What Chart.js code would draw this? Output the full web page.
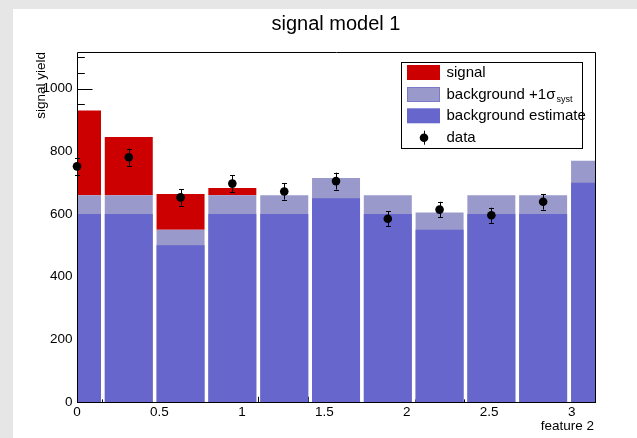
<!DOCTYPE html>
<html>
<head>
<meta charset="utf-8">
<script src="https://cdn.jsdelivr.net/npm/chart.js@4/dist/chart.umd.min.js"></script>
<style>
  html, body { margin: 0; padding: 0; background: #fff; }
  #wrap { width: 637px; height: 438px; }
</style>
</head>
<body>
<div id="wrap"><canvas id="c" width="637" height="438"></canvas></div>
<script>
// ---- data ----
const binCenters   = [0, 0.314, 0.628, 0.942, 1.257, 1.571, 1.885, 2.199, 2.513, 2.827, 3.142];
const bkgEstimate  = [600, 600, 500, 600, 600, 650, 600, 550, 600, 600, 700];
const bkgUpSyst    = [660, 660, 550, 660, 660, 715, 660, 605, 660, 660, 770];
const signalYield  = [270, 186, 114, 23, 0, 0, 0, 0, 0, 0, 0];
const dataX        = [0, 0.314, 0.628, 0.942, 1.257, 1.571, 1.885, 2.199, 2.513, 2.827];
const dataY        = [752, 781, 653, 697, 672, 705, 585, 614, 596, 639];
const dataErr      = [27, 28, 26, 27, 26, 27, 24, 25, 24, 25];
const xTickLabels  = ['0', '0.5', '1', '1.5', '2', '2.5', '3'];
const yTickLabels  = ['0', '200', '400', '600', '800', '1000'];

const legendItems  = ['signal', 'background +1', 'background estimate', 'data'];
const titleText    = 'signal model 1';
const xTitle       = 'feature 2';
const yTitle       = 'signal yield';

const RED = '#cc0000', LIGHT = '#9999cc', DARK = '#6666cc';
const FONT = '"Liberation Sans", Arial, Helvetica, sans-serif';

Chart.defaults.font.family = FONT;
Chart.defaults.color = '#000';

const rootStyle = {
  id: 'rootStyle',
  beforeDraw(chart) {
    const { ctx, width, height } = chart;
    ctx.save();
    ctx.fillStyle = '#ffffff';
    ctx.fillRect(0, 0, width, height);
    ctx.fillStyle = '#e6e6e6';
    ctx.fillRect(0, 0, width, 9);
    ctx.fillRect(0, 0, 13, height);
    ctx.restore();
  },
  beforeDatasetsDraw(chart) {
    const { ctx, chartArea: a, scales: { x, y } } = chart;
    ctx.save();
    ctx.strokeStyle = '#000';
    ctx.lineWidth = 1;
    ctx.beginPath();
    ctx.moveTo(a.left, a.bottom + 0.5);
    ctx.lineTo(a.right, a.bottom + 0.5);
    // y ticks (inside frame), major every 200, minor every 50
    for (let k = 0; k * 50 <= y.max; k++) {
      const py = Math.round(y.getPixelForValue(k * 50)) + 0.5;
      const len = (k % 4 === 0) ? 15.5 : 7.8;
      ctx.moveTo(a.left, py);
      ctx.lineTo(a.left + len, py);
    }
    // x ticks (inside frame), major 0.5, minor 0.1, tertiary 0.05
    for (let k = 0; k * 0.05 <= x.max + 1e-9; k++) {
      const px = Math.round(x.getPixelForValue(k * 0.05)) + 0.5;
      const len = (k % 10 === 0) ? 10.5 : (k % 2 === 0 ? 5.2 : 2.6);
      ctx.moveTo(px, a.bottom);
      ctx.lineTo(px, a.bottom - len);
    }
    ctx.stroke();
    ctx.restore();
  },
  afterDatasetsDraw(chart) {
    const { ctx, chartArea: a, scales: { x, y } } = chart;
    ctx.save();
    // error bars
    ctx.strokeStyle = '#000';
    ctx.lineWidth = 1;
    ctx.beginPath();
    for (let i = 0; i < dataY.length; i++) {
      const px = Math.round(x.getPixelForValue(dataX[i])) + 0.5;
      const yTop = y.getPixelForValue(dataY[i] + dataErr[i]);
      const yBot = y.getPixelForValue(dataY[i] - dataErr[i]);
      ctx.moveTo(px, yTop); ctx.lineTo(px, yBot);
      ctx.moveTo(px - 2.5, Math.round(yTop) + 0.5); ctx.lineTo(px + 2.5, Math.round(yTop) + 0.5);
      ctx.moveTo(px - 2.5, Math.round(yBot) + 0.5); ctx.lineTo(px + 2.5, Math.round(yBot) + 0.5);
    }
    ctx.stroke();
    // frame: left, top, right
    ctx.beginPath();
    ctx.moveTo(a.left + 0.5, a.bottom + 1);
    ctx.lineTo(a.left + 0.5, a.top + 0.5);
    ctx.lineTo(a.right + 0.5, a.top + 0.5);
    ctx.lineTo(a.right + 0.5, a.bottom + 1);
    ctx.stroke();

    // title
    ctx.fillStyle = '#000';
    ctx.font = '20px ' + FONT;
    ctx.textAlign = 'center';
    ctx.textBaseline = 'alphabetic';
    ctx.fillText(titleText, 336, 30);

    // axis titles
    ctx.font = '13.5px ' + FONT;
    ctx.textAlign = 'right';
    ctx.textBaseline = 'middle';
    ctx.fillText(xTitle, 594, 426);
    ctx.save();
    ctx.translate(45, 52);
    ctx.rotate(-Math.PI / 2);
    ctx.textAlign = 'right';
    ctx.textBaseline = 'alphabetic';
    ctx.fillText(yTitle, 0, 0);
    ctx.restore();

    // legend
    const L = { x: 401.5, y: 62.5, w: 181, h: 86 };
    ctx.fillStyle = '#fff';
    ctx.fillRect(L.x, L.y, L.w, L.h);
    ctx.strokeStyle = '#000';
    ctx.strokeRect(L.x, L.y, L.w, L.h);
    const rows = [72.5, 94.5, 115.8, 137.7];
    const swX = 407, swW = 33, swH = 15;
    ctx.fillStyle = RED;
    ctx.fillRect(swX, rows[0] - swH / 2, swW, swH);
    ctx.fillStyle = LIGHT;
    ctx.fillRect(swX, rows[1] - swH / 2, swW, swH);
    ctx.strokeStyle = '#7a7ac8';
    ctx.strokeRect(swX + 0.5, rows[1] - swH / 2 + 0.5, swW - 1, swH - 1);
    ctx.fillStyle = DARK;
    ctx.fillRect(swX, rows[2] - swH / 2, swW, swH);
    // data marker
    ctx.fillStyle = '#000';
    ctx.beginPath();
    ctx.arc(424, rows[3], 4.3, 0, Math.PI * 2);
    ctx.fill();
    ctx.strokeStyle = '#000';
    ctx.beginPath();
    ctx.moveTo(424.5, rows[3] - 7); ctx.lineTo(424.5, rows[3] + 7);
    ctx.stroke();

    ctx.fillStyle = '#000';
    ctx.textAlign = 'left';
    ctx.textBaseline = 'middle';
    ctx.font = '15px ' + FONT;
    const tx = 446.5;
    ctx.fillText(legendItems[0], tx, rows[0]);
    ctx.fillText(legendItems[1], tx, rows[1]);
    let w1 = ctx.measureText(legendItems[1]).width;
    ctx.fillText('\u03c3', tx + w1, rows[1]);
    const ws = ctx.measureText('\u03c3').width;
    ctx.font = '9px ' + FONT;
    ctx.fillText('syst', tx + w1 + ws + 1, rows[1] + 5);
    ctx.font = '15px ' + FONT;
    ctx.fillText(legendItems[2], tx, rows[2]);
    ctx.fillText(legendItems[3], tx, rows[3]);
    ctx.restore();
  }
};

const barCommon = {
  type: 'bar',
  grouped: false,
  barPercentage: 0.927,
  categoryPercentage: 1.0,
  borderWidth: 0,
  borderSkipped: false
};

const sigPoints = [];
for (let i = 0; i < binCenters.length; i++) {
  if (signalYield[i] > 0) {
    sigPoints.push({ x: binCenters[i], y: [bkgUpSyst[i], bkgUpSyst[i] + signalYield[i]] });
  }
}

new Chart(document.getElementById('c'), {
  type: 'bar',
  data: {
    datasets: [
      {
        type: 'line',
        label: 'data',
        data: dataX.map((v, i) => ({ x: v, y: dataY[i] })),
        showLine: false,
        pointRadius: 4.3,
        pointBackgroundColor: '#000',
        pointBorderColor: '#000',
        pointBorderWidth: 0,
        clip: false,
        order: 0
      },
      Object.assign({}, barCommon, {
        label: 'background estimate',
        data: binCenters.map((v, i) => ({ x: v, y: bkgEstimate[i] })),
        backgroundColor: DARK,
        order: 1
      }),
      Object.assign({}, barCommon, {
        label: 'background +1 sigma syst',
        data: binCenters.map((v, i) => ({ x: v, y: bkgUpSyst[i] })),
        backgroundColor: LIGHT,
        order: 2
      }),
      Object.assign({}, barCommon, {
        label: 'signal',
        data: sigPoints,
        backgroundColor: RED,
        order: 3
      })
    ]
  },
  options: {
    responsive: false,
    animation: false,
    events: [],
    layout: { padding: { left: 0, top: 52, right: 42, bottom: 0 } },
    plugins: { legend: { display: false }, tooltip: { enabled: false }, title: { display: false } },
    scales: {
      x: {
        type: 'linear',
        min: 0,
        max: Math.PI,
        offset: false,
        grid: { display: false, drawTicks: false, tickLength: 0 },
        border: { display: false },
        ticks: {
          stepSize: 0.5,
          includeBounds: false,
          autoSkip: false,
          maxRotation: 0,
          padding: 2,
          font: { size: 13.5 },
          color: '#000',
          callback: (v) => {
            const idx = Math.round(v / 0.5);
            return Math.abs(v - idx * 0.5) < 1e-6 && idx < xTickLabels.length ? xTickLabels[idx] : null;
          }
        },
        afterFit: (s) => { s.height = 36; }
      },
      y: {
        type: 'linear',
        min: 0,
        max: 1117,
        grid: { display: false, drawTicks: false, tickLength: 0 },
        border: { display: false },
        ticks: {
          stepSize: 200,
          includeBounds: false,
          padding: 4.5,
          font: { size: 13.5 },
          color: '#000',
          callback: (v) => {
            const idx = Math.round(v / 200);
            return Math.abs(v - idx * 200) < 1e-6 && idx < yTickLabels.length ? yTickLabels[idx] : null;
          }
        },
        afterFit: (s) => { s.width = 77; }
      }
    }
  },
  plugins: [rootStyle]
});
</script>
</body>
</html>
